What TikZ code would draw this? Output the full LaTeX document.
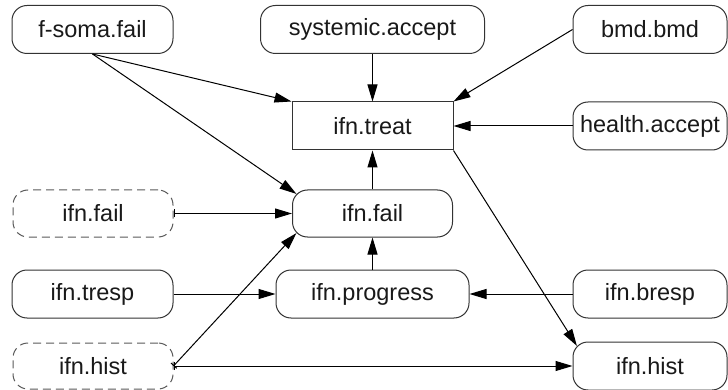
\documentclass[tikz,border=0pt]{standalone}
\usepackage{fontspec}
\setmainfont{Liberation Sans}
\usetikzlibrary{arrows.meta,calc}

\tikzset{
  box/.style={draw=black!80, line width=1pt, rounded corners=15pt,
    inner sep=0pt, minimum width=161pt, minimum height=48pt,
    font=\fontsize{23.5}{28}\selectfont, text=black!90},
  dashbox/.style={box, draw=black!65, dash pattern=on 8pt off 5pt},
  plainbox/.style={box, rounded corners=0pt},
  link/.style={line width=1pt, -{Triangle[length=17pt,width=10pt]}},
  barlink/.style={line width=1pt, {Bar[width=8pt,line width=1pt]}-{Triangle[length=17pt,width=10pt]}}
}

\begin{document}
\begin{tikzpicture}[x=1pt, y=-1pt]
  \useasboundingbox (0,0) rectangle (728,390);

  % top row
  \node[box] (fsoma) at (92.5,29.5) {f-soma.fail};
  \node[box, minimum width=224pt] (sysacc) at (372.5,29.5) {systemic.accept};
  \node[box, minimum width=154pt] (bmd) at (650,29.5) {bmd.bmd};

  % treatment row
  \node[plainbox] (treat) at (372.5,126) {ifn.treat};
  \node[box, minimum width=154pt] (health) at (650,126) {health.accept};

  % failure row
  \node[dashbox, minimum width=160pt, minimum height=47pt] (dfail) at (93,213.5) {ifn.fail};
  \node[box, minimum width=160pt, minimum height=47pt] (ifail) at (372.5,213.5) {ifn.fail};

  % progression row
  \node[box] (tresp) at (92.5,294) {ifn.tresp};
  \node[box, minimum width=193pt] (progress) at (372.5,294) {ifn.progress};
  \node[box, minimum width=154pt] (bresp) at (650,294) {ifn.bresp};

  % history row
  \node[dashbox, minimum width=160pt, minimum height=46pt] (dhist) at (93,366) {ifn.hist};
  \node[box, minimum width=154pt] (hist) at (650,366) {ifn.hist};

  % points on the rounded corners
  \coordinate (ifailNW) at ($(ifail.north west)+(4.4,4.4)$);
  \coordinate (ifailSW) at ($(ifail.south west)+(4.4,-4.4)$);
  \coordinate (histNW) at ($(hist.north west)+(4.4,4.4)$);

  % connectors
  \draw[link] (fsoma.south) -- (treat.north west);
  \draw[link] (fsoma.south) -- (ifailNW);
  \draw[link] (sysacc.south) -- (treat.north);
  \draw[link] (bmd.west) -- (treat.north east);
  \draw[link] (health.west) -- (treat.east);
  \draw[link] (ifail.north) -- (treat.south);
  \draw[link] (treat.south east) -- (histNW);
  \draw[barlink] (dfail.east) -- (ifail.west);
  \draw[link] (tresp.east) -- (progress.west);
  \draw[link] (progress.north) -- (ifail.south);
  \draw[link] (bresp.west) -- (progress.east);
  \draw[barlink] (dhist.east) -- (ifailSW);
  \draw[barlink] (dhist.east) -- (hist.west);
\end{tikzpicture}
\end{document}
